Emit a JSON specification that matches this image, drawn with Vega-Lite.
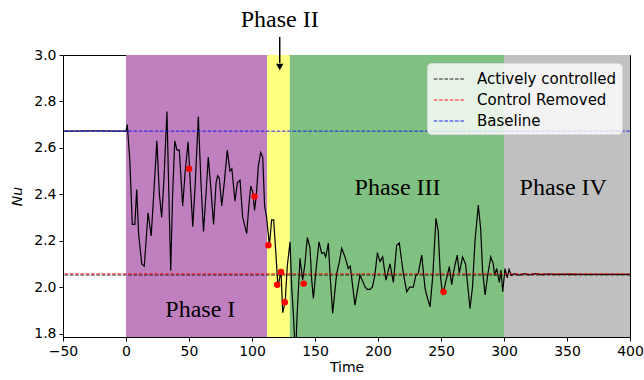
{
  "$schema": "https://vega.github.io/schema/vega-lite/v6.json",
  "width": 567,
  "height": 282,
  "autosize": {"type": "none"},
  "padding": {"left": 63, "top": 55, "right": 14, "bottom": 43},
  "background": "white",
  "config": {
    "font": "DejaVu Sans",
    "view": {"stroke": null},
    "axis": {
      "domainColor": "#000000", "domainWidth": 1, "tickColor": "#000000", "tickSize": 4, "tickWidth": 1,
      "labelColor": "#000000", "labelFontSize": 14, "labelFont": "DejaVu Sans", "titleFont": "DejaVu Sans",
      "titleFontSize": 14, "titleColor": "#000000", "titleFontWeight": "normal", "grid": false,
      "labelPadding": 3, "zindex": 1, "labelFlush": false, "labelOverlap": false
    }
  },
  "datasets": {
    "phases": [
      {"phase": "I", "start": 0, "end": 112},
      {"phase": "II", "start": 112, "end": 130},
      {"phase": "III", "start": 130, "end": 300},
      {"phase": "IV", "start": 300, "end": 400}
    ],
    "refs": [
      {"series": "Actively controlled", "nu": 2.052},
      {"series": "Control Removed", "nu": 2.057},
      {"series": "Baseline", "nu": 2.672}
    ],
    "nu": [
      {"t": -50, "nu": 2.672}, {"t": -25, "nu": 2.673}, {"t": 0, "nu": 2.672}, {"t": 1, "nu": 2.7}, {"t": 3, "nu": 2.55},
      {"t": 5, "nu": 2.27}, {"t": 7, "nu": 2.27}, {"t": 8.5, "nu": 2.42}, {"t": 10, "nu": 2.23}, {"t": 12.5, "nu": 2.1},
      {"t": 14.5, "nu": 2.09}, {"t": 17.5, "nu": 2.32}, {"t": 20, "nu": 2.22}, {"t": 22, "nu": 2.4}, {"t": 24.5, "nu": 2.63},
      {"t": 26.5, "nu": 2.4}, {"t": 28.3, "nu": 2.3}, {"t": 30, "nu": 2.45}, {"t": 32.5, "nu": 2.756}, {"t": 34, "nu": 2.4},
      {"t": 35.5, "nu": 2.07}, {"t": 37, "nu": 2.4}, {"t": 38.7, "nu": 2.63}, {"t": 40.5, "nu": 2.59}, {"t": 42.3, "nu": 2.59},
      {"t": 45, "nu": 2.35}, {"t": 47, "nu": 2.5}, {"t": 49.3, "nu": 2.626}, {"t": 51, "nu": 2.45}, {"t": 53, "nu": 2.26},
      {"t": 55, "nu": 2.45}, {"t": 57.4, "nu": 2.735}, {"t": 59.5, "nu": 2.45}, {"t": 61.5, "nu": 2.24}, {"t": 63.5, "nu": 2.4},
      {"t": 65.3, "nu": 2.56}, {"t": 67, "nu": 2.45}, {"t": 69.5, "nu": 2.27}, {"t": 71.5, "nu": 2.45}, {"t": 72.8, "nu": 2.48},
      {"t": 74, "nu": 2.47}, {"t": 76, "nu": 2.35}, {"t": 78, "nu": 2.45}, {"t": 80.4, "nu": 2.59}, {"t": 82.5, "nu": 2.5},
      {"t": 84, "nu": 2.51}, {"t": 86.5, "nu": 2.37}, {"t": 88.4, "nu": 2.45}, {"t": 90.5, "nu": 2.46}, {"t": 92.6, "nu": 2.3},
      {"t": 94, "nu": 2.27}, {"t": 95.8, "nu": 2.23}, {"t": 97.5, "nu": 2.35}, {"t": 99, "nu": 2.435}, {"t": 100.6, "nu": 2.41},
      {"t": 102, "nu": 2.33}, {"t": 103.5, "nu": 2.4}, {"t": 105, "nu": 2.52}, {"t": 106.9, "nu": 2.58}, {"t": 108.5, "nu": 2.56},
      {"t": 110, "nu": 2.35}, {"t": 111.6, "nu": 2.3}, {"t": 113.8, "nu": 2.18}, {"t": 115.6, "nu": 2.29}, {"t": 117.2, "nu": 2.29},
      {"t": 119, "nu": 2.14}, {"t": 120.6, "nu": 2.0}, {"t": 123, "nu": 2.07}, {"t": 124.4, "nu": 1.89}, {"t": 126.3, "nu": 1.935},
      {"t": 128, "nu": 2.09}, {"t": 130.2, "nu": 2.195}, {"t": 131.5, "nu": 2.0}, {"t": 132.8, "nu": 1.887}, {"t": 134.5, "nu": 1.7},
      {"t": 135.8, "nu": 1.88}, {"t": 138.1, "nu": 2.124}, {"t": 140.2, "nu": 2.03}, {"t": 142, "nu": 2.1}, {"t": 143.9, "nu": 2.214},
      {"t": 146, "nu": 2.17}, {"t": 147.4, "nu": 2.03}, {"t": 148.7, "nu": 1.951}, {"t": 151.3, "nu": 2.1}, {"t": 153.2, "nu": 2.195},
      {"t": 155.3, "nu": 2.145}, {"t": 157, "nu": 2.15}, {"t": 158.5, "nu": 2.13}, {"t": 160.6, "nu": 2.19}, {"t": 162, "nu": 2.05},
      {"t": 164, "nu": 1.887}, {"t": 167.2, "nu": 2.059}, {"t": 169, "nu": 2.1}, {"t": 171.2, "nu": 2.167}, {"t": 173.8, "nu": 2.13},
      {"t": 176.4, "nu": 2.08}, {"t": 178, "nu": 2.09}, {"t": 181.7, "nu": 1.922}, {"t": 185.7, "nu": 2.052}, {"t": 187.5, "nu": 2.03},
      {"t": 189.7, "nu": 2.001}, {"t": 191.5, "nu": 1.99}, {"t": 193.7, "nu": 1.99}, {"t": 195.5, "nu": 2.0}, {"t": 197.5, "nu": 2.05},
      {"t": 199.5, "nu": 2.148}, {"t": 201.6, "nu": 2.11}, {"t": 203.7, "nu": 2.13}, {"t": 206.3, "nu": 2.03}, {"t": 209.5, "nu": 2.1},
      {"t": 212.2, "nu": 2.02}, {"t": 214.8, "nu": 2.18}, {"t": 216.9, "nu": 2.19}, {"t": 220.1, "nu": 2.059}, {"t": 222.8, "nu": 1.98},
      {"t": 225, "nu": 2.0}, {"t": 228, "nu": 2.0}, {"t": 230, "nu": 2.05}, {"t": 232, "nu": 2.06}, {"t": 234.7, "nu": 2.138},
      {"t": 237.3, "nu": 1.997}, {"t": 238.6, "nu": 1.966}, {"t": 241.3, "nu": 1.915}, {"t": 243.5, "nu": 2.05}, {"t": 246, "nu": 2.296},
      {"t": 247.8, "nu": 2.24}, {"t": 249.5, "nu": 2.05}, {"t": 251.3, "nu": 1.966}, {"t": 254.5, "nu": 2.04}, {"t": 256.6, "nu": 2.088},
      {"t": 258.5, "nu": 2.01}, {"t": 260.5, "nu": 2.08}, {"t": 262.9, "nu": 2.138}, {"t": 264.5, "nu": 2.06}, {"t": 267.1, "nu": 2.13},
      {"t": 269.5, "nu": 2.1}, {"t": 273, "nu": 1.908}, {"t": 275, "nu": 2.0}, {"t": 277, "nu": 2.2}, {"t": 279.6, "nu": 2.353},
      {"t": 281.5, "nu": 2.25}, {"t": 283, "nu": 2.07}, {"t": 285, "nu": 1.966}, {"t": 287, "nu": 2.05}, {"t": 289.5, "nu": 2.13},
      {"t": 291.5, "nu": 2.1}, {"t": 292.5, "nu": 2.05}, {"t": 294.2, "nu": 2.08}, {"t": 296.3, "nu": 2.02}, {"t": 297.6, "nu": 2.073},
      {"t": 299, "nu": 1.98}, {"t": 300.8, "nu": 2.08}, {"t": 302.6, "nu": 2.04}, {"t": 304, "nu": 2.076}, {"t": 305.8, "nu": 2.05},
      {"t": 308.5, "nu": 2.058}, {"t": 312, "nu": 2.052}, {"t": 316, "nu": 2.058}, {"t": 320, "nu": 2.053}, {"t": 325, "nu": 2.058},
      {"t": 330, "nu": 2.054}, {"t": 335, "nu": 2.057}, {"t": 340, "nu": 2.055}, {"t": 350, "nu": 2.056}, {"t": 360, "nu": 2.055},
      {"t": 400, "nu": 2.055}
    ],
    "dots": [
      {"t": 50, "nu": 2.51}, {"t": 102, "nu": 2.39}, {"t": 113, "nu": 2.18}, {"t": 120, "nu": 2.01},
      {"t": 123, "nu": 2.065}, {"t": 126, "nu": 1.935}, {"t": 141, "nu": 2.015}, {"t": 252, "nu": 1.98}
    ],
    "labels": [
      {"t": 59, "nu": 1.9, "label": "Phase I"},
      {"t": 215.5, "nu": 2.425, "label": "Phase III"},
      {"t": 347, "nu": 2.425, "label": "Phase IV"},
      {"t": 122, "nu": 3.151, "label": "Phase II"}
    ],
    "arrow": [{"t": 122, "top": 3.078, "bottom": 2.965, "tip": 2.948}]
  },
  "layer": [
    {
      "data": {"name": "phases"},
      "mark": {"type": "rect"},
      "encoding": {
        "x": {"field": "start", "type": "quantitative", "scale": {"domain": [-50, 400], "nice": false, "zero": false},
              "axis": {"values": [-50, 0, 50, 100, 150, 200, 250, 300, 350, 400], "title": "Time", "titlePadding": 2}},
        "x2": {"field": "end"},
        "fill": {"field": "phase", "type": "nominal", "legend": null,
                 "scale": {"domain": ["I", "II", "III", "IV"], "range": ["#C080C0", "#FFFF80", "#80C080", "#C0C0C0"]}}
      }
    },
    {
      "data": {"name": "nu"},
      "mark": {"type": "line", "color": "#000000", "strokeWidth": 1.2, "clip": true},
      "encoding": {
        "x": {"field": "t", "type": "quantitative", "scale": {"domain": [-50, 400], "nice": false, "zero": false},
              "axis": {"orient": "top", "labels": false, "ticks": false, "title": null, "domain": true}},
        "y": {"field": "nu", "type": "quantitative", "scale": {"domain": [1.785, 3.0], "nice": false, "zero": false},
              "axis": {"orient": "right", "labels": false, "ticks": false, "title": null, "domain": true}}
      }
    },
    {
      "data": {"name": "refs"},
      "mark": {"type": "rule", "strokeDash": [3.7, 1.6], "strokeWidth": 1, "opacity": 0.85},
      "encoding": {
        "y": {"field": "nu", "type": "quantitative", "scale": {"domain": [1.785, 3.0], "nice": false, "zero": false},
              "axis": {"orient": "left", "values": [1.8, 2.0, 2.2, 2.4, 2.6, 2.8, 3.0], "format": ".1f", "title": "Nu",
                       "titleFontStyle": "italic", "titlePadding": 9}},
        "stroke": {"field": "series", "type": "nominal",
                   "scale": {"domain": ["Actively controlled", "Control Removed", "Baseline"], "range": ["#000000", "#ff0000", "#0000ff"]},
                   "legend": {"orient": "none", "legendX": 364, "legendY": 8, "title": null, "symbolType": "M-0.9,0H2.1",
                              "symbolSize": 420, "symbolStrokeWidth": 1, "symbolDash": [3.7, 1.6], "symbolOpacity": 0.85,
                              "symbolFillColor": "transparent",
                              "labelFontSize": 15, "labelColor": "#000000", "labelOffset": 23, "rowPadding": 2, "padding": 5,
                              "fillColor": "rgba(255,255,255,0.8)", "strokeColor": "#d8d8d8", "cornerRadius": 4}}
      }
    },
    {
      "data": {"name": "dots"},
      "mark": {"type": "circle", "size": 42, "color": "#ff0000", "opacity": 1},
      "encoding": {
        "x": {"field": "t", "type": "quantitative", "scale": {"domain": [-50, 400], "nice": false, "zero": false}, "axis": null},
        "y": {"field": "nu", "type": "quantitative", "scale": {"domain": [1.785, 3.0], "nice": false, "zero": false}, "axis": null}
      }
    },
    {
      "data": {"name": "labels"},
      "mark": {"type": "text", "font": "Liberation Serif", "fontSize": 24, "color": "#000000", "baseline": "middle", "align": "center"},
      "encoding": {
        "x": {"field": "t", "type": "quantitative", "scale": {"domain": [-50, 400], "nice": false, "zero": false}, "axis": null},
        "y": {"field": "nu", "type": "quantitative", "scale": {"domain": [1.785, 3.0], "nice": false, "zero": false}, "axis": null},
        "text": {"field": "label"}
      }
    },
    {
      "data": {"name": "arrow"},
      "mark": {"type": "rule", "color": "#000000", "strokeWidth": 1.5},
      "encoding": {
        "x": {"field": "t", "type": "quantitative", "scale": {"domain": [-50, 400], "nice": false, "zero": false}, "axis": null},
        "y": {"field": "top", "type": "quantitative", "scale": {"domain": [1.785, 3.0], "nice": false, "zero": false}, "axis": null},
        "y2": {"field": "bottom"}
      }
    },
    {
      "data": {"name": "arrow"},
      "mark": {"type": "point", "shape": "triangle-down", "size": 55, "filled": true, "color": "#000000", "opacity": 1},
      "encoding": {
        "x": {"field": "t", "type": "quantitative", "scale": {"domain": [-50, 400], "nice": false, "zero": false}, "axis": null},
        "y": {"field": "tip", "type": "quantitative", "scale": {"domain": [1.785, 3.0], "nice": false, "zero": false}, "axis": null}
      }
    }
  ],
  "resolve": {"axis": {"x": "independent", "y": "independent"}}
}
